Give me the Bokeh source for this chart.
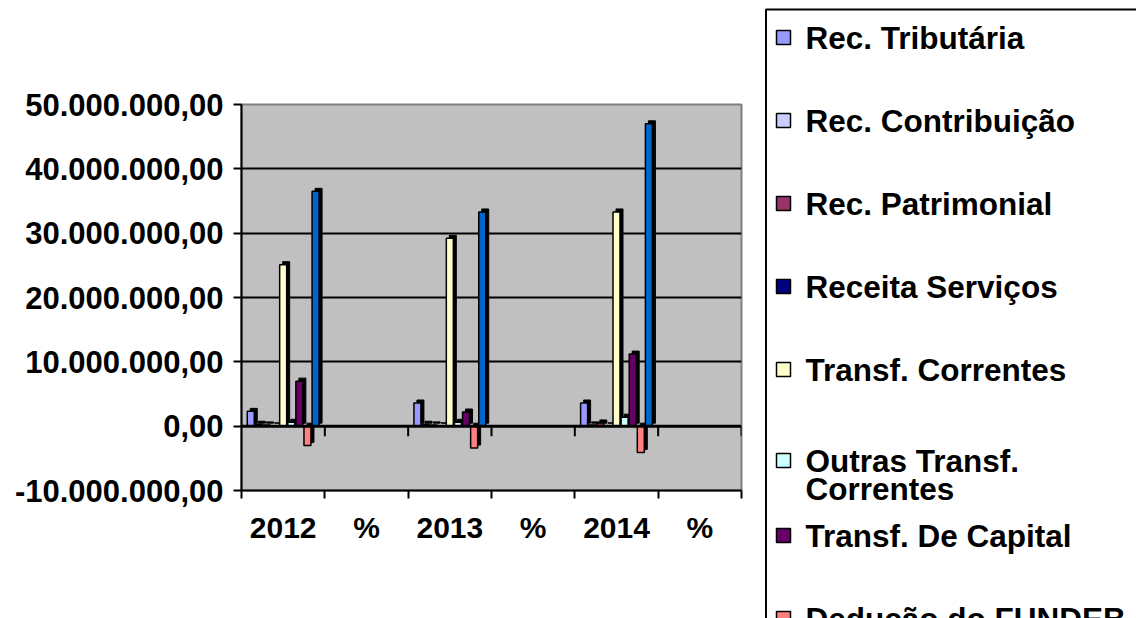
from bokeh.plotting import figure
from bokeh.models import (FixedTicker, LinearAxis, Range1d, Span, ColumnDataSource, Grid)
from bokeh.layouts import row
from bokeh.core.properties import value
from bokeh.embed import file_html
from bokeh.resources import INLINE

NAN = float("nan")

# ---------------- data ----------------
categories = ["2012", "%", "2013", "%", "2014", "%"]

series_names = [
    "Rec. Tributária",
    "Rec. Contribuição",
    "Rec. Patrimonial",
    "Receita Serviços",
    "Transf. Correntes",
    "Outras Transf.\nCorrentes",
    "Transf. De Capital",
    "Dedução do FUNDEB",
    "Total",
]
series_colors = ["#9999FF", "#CCCCFF", "#993366", "#000080", "#FFFFCC",
                 "#CCFFFF", "#660066", "#FF8080", "#0066CC"]

rec_tributaria   = [2.3e6, NAN, 3.6e6, NAN, 3.6e6, NAN]
rec_contribuicao = [0.3e6, NAN, 0.3e6, NAN, 0.2e6, NAN]
rec_patrimonial  = [0.2e6, NAN, 0.2e6, NAN, 0.5e6, NAN]
receita_servicos = [0.05e6, NAN, 0.05e6, NAN, 0.05e6, NAN]
transf_correntes = [25.1e6, NAN, 29.2e6, NAN, 33.3e6, NAN]
outras_transf    = [0.6e6, NAN, 0.6e6, NAN, 1.4e6, NAN]
transf_capital   = [7.0e6, NAN, 2.2e6, NAN, 11.2e6, NAN]
deducao_fundeb   = [-3.0e6, NAN, -3.4e6, NAN, -4.1e6, NAN]
total            = [36.5e6, NAN, 33.3e6, NAN, 47.0e6, NAN]

series_values = [rec_tributaria, rec_contribuicao, rec_patrimonial, receita_servicos,
                 transf_correntes, outras_transf, transf_capital, deducao_fundeb, total]

y_ticks = [-10e6, 0, 10e6, 20e6, 30e6, 40e6, 50e6]
y_tick_labels = ["-10.000.000,00", "0,00", "10.000.000,00", "20.000.000,00",
                 "30.000.000,00", "40.000.000,00", "50.000.000,00"]

# ---------------- style ----------------
FONT = "Liberation Sans"
W_TOTAL, H = 1136, 618
W1 = 764
FRAME_L, FRAME_T, FRAME_R, FRAME_B = 241, 104, 741, 490
frame_w = FRAME_R - FRAME_L
frame_h = FRAME_B - FRAME_T
ncat = len(categories)
y0, y1 = -10e6, 50e6
px_x = ncat / frame_w          # data units per pixel (x)
px_y = (y1 - y0) / frame_h     # data units per pixel (y)

p = figure(width=W1, height=H, output_backend="svg", toolbar_location=None,
           x_axis_type=None, y_axis_type=None,
           x_range=Range1d(0, ncat), y_range=Range1d(y0, y1),
           min_border_left=FRAME_L, min_border_top=FRAME_T,
           min_border_right=W1 - FRAME_R, min_border_bottom=H - FRAME_B)
p.background_fill_color = "#C0C0C0"
p.border_fill_color = "white"
p.outline_line_color = "#808080"
p.outline_line_width = 2

# grid lines
p.add_layout(Grid(dimension=1, ticker=FixedTicker(ticks=[10e6, 20e6, 30e6, 40e6]),
                  grid_line_color="black", grid_line_width=2))

# y axis
yax = LinearAxis(ticker=FixedTicker(ticks=y_ticks),
                 major_label_overrides={t: l for t, l in zip(y_ticks, y_tick_labels)})
yax.axis_line_color = "black"
yax.axis_line_width = 2
yax.major_tick_line_color = "black"
yax.major_tick_line_width = 2
yax.major_tick_out = 8
yax.major_tick_in = 0
yax.minor_tick_line_color = None
yax.major_label_standoff = 10
yax.major_label_text_font = FONT
yax.major_label_text_font_style = "bold"
yax.major_label_text_font_size = "31px"
yax.major_label_text_color = "black"
p.add_layout(yax, "left")

# x axis: boundary ticks
bounds = list(range(ncat + 1))
xa = LinearAxis(ticker=FixedTicker(ticks=bounds),
                major_label_overrides={b: "" for b in bounds})
xa.axis_line_color = "black"
xa.axis_line_width = 2
xa.major_tick_line_color = "black"
xa.major_tick_line_width = 2
xa.major_tick_out = 8
xa.major_tick_in = 0
xa.minor_tick_line_color = None
xa.major_label_standoff = 0
xa.major_label_text_font_size = "1px"
p.add_layout(xa, "below")

# x axis: category labels
centers = [i + 0.5 for i in range(ncat)]
xb = LinearAxis(ticker=FixedTicker(ticks=centers),
                major_label_overrides={c: l for c, l in zip(centers, categories)})
xb.axis_line_color = None
xb.major_tick_line_color = None
xb.minor_tick_line_color = None
xb.major_tick_out = 0
xb.major_tick_in = 0
xb.major_label_standoff = 12
xb.major_label_text_font = FONT
xb.major_label_text_font_style = "bold"
xb.major_label_text_font_size = "30px"
xb.major_label_text_color = "black"
p.add_layout(xb, "below")

# zero line with its ticks
p.add_layout(Span(location=0, dimension="width", line_color="black", line_width=3))
p.segment(x0=bounds[1:], x1=bounds[1:], y0=[0] * ncat, y1=[-10 * px_y] * ncat,
          line_color="black", line_width=2)

# bars (pseudo 3D)
nser = len(series_values)
pitch = 8.1 * px_x
bar_w = 7 * px_x
dx = 3 * px_x
dy = 3 * px_y
sources = []
for s, vals in enumerate(series_values):
    xs = [i + 0.5 + (s - (nser - 1) / 2) * pitch for i in range(ncat)]
    sources.append(ColumnDataSource(dict(
        x=xs, top=vals, bottom=[0] * ncat,
        sx=[x + dx for x in xs], stop=[v + dy for v in vals], sbottom=[dy] * ncat)))

for src in sources:
    p.vbar(x="sx", top="stop", bottom="sbottom", width=bar_w, source=src,
           fill_color="black", line_color="black", line_width=1)
for src, col in zip(sources, series_colors):
    p.vbar(x="x", top="top", bottom="bottom", width=bar_w, source=src,
           fill_color=col, line_color="black", line_width=1.5)

# ---------------- legend panel (second figure, page-like pixel coordinates) ----------------
W2 = W_TOTAL - W1
lg = figure(width=W2, height=H, output_backend="svg", toolbar_location=None,
            x_axis_type=None, y_axis_type=None,
            x_range=Range1d(W1, W_TOTAL), y_range=Range1d(H, 0),
            min_border=0)
lg.outline_line_color = None
lg.background_fill_color = "white"
lg.border_fill_color = "white"
lg.xgrid.visible = False
lg.ygrid.visible = False

for fig in (p, lg):
    if "frame_align" in fig.properties():
        fig.frame_align = False

LEG_L, LEG_T = 765.5, 9
lg.quad(left=[LEG_L], right=[W_TOTAL + 50], top=[LEG_T], bottom=[H + 50],
        fill_color=None, line_color="black", line_width=2)

LEG_Y0, LEG_DY, LINE_H = 37, 83, 28
SQ, SQ_L, TXT_L = 14, 776, 805
sq_x, sq_y, txt_x, txt_y, txt = [], [], [], [], []
for k, name in enumerate(series_names):
    lines = name.split("\n")
    yc = LEG_Y0 + LEG_DY * k + (8 if len(lines) > 1 else 0)
    sq_x.append(SQ_L + SQ / 2)
    sq_y.append(yc)
    for j, ln in enumerate(lines):
        txt_x.append(TXT_L)
        txt_y.append(yc + j * LINE_H)
        txt.append(ln)

lg.rect(x=sq_x, y=sq_y, width=SQ, height=SQ, fill_color=series_colors,
        line_color="black", line_width=1.5)
lg.text(x=txt_x, y=txt_y, text=txt, text_font=value(FONT), text_font_style="bold",
        text_font_size="31.5px", text_baseline="middle", text_align="left",
        text_color="black")

layout = row(p, lg, spacing=0)
open("out.html", "w").write(file_html(layout, INLINE))
